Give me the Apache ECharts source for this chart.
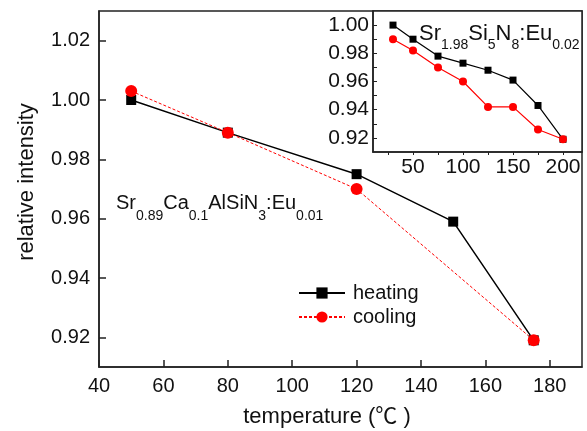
<!DOCTYPE html>
<html>
<head>
<meta charset="utf-8">
<script src="https://cdn.jsdelivr.net/npm/echarts@6/dist/echarts.min.js"></script>
<style>
html,body{margin:0;padding:0;background:#fff;}
#c{width:587px;height:431px;}
</style>
</head>
<body>
<div id="c"></div>
<script>
// ---- data ----
var mainHeatX = [50, 80, 120, 150, 175];
var mainHeatY = [1.000, 0.989, 0.975, 0.959, 0.919];
var mainCoolX = [50, 80, 120, 175];
var mainCoolY = [1.003, 0.989, 0.970, 0.919];

var insetX = [30, 50, 75, 100, 125, 150, 175, 200];
var insetHeatY = [1.000, 0.990, 0.978, 0.973, 0.968, 0.961, 0.943, 0.919];
var insetCoolY = [0.990, 0.982, 0.970, 0.960, 0.942, 0.942, 0.926, 0.919];

var mainXTicks = [40, 60, 80, 100, 120, 140, 160, 180];
var mainYTicks = [0.92, 0.94, 0.96, 0.98, 1.00, 1.02];
var insetXTicks = [25, 50, 75, 100, 125, 150, 175, 200];
var insetXLabels = [50, 100, 150, 200];
var insetYTicks = [0.92, 0.93, 0.94, 0.95, 0.96, 0.97, 0.98, 0.99, 1.00];
var insetYLabels = [0.92, 0.94, 0.96, 0.98, 1.00];

var seriesNames = ['heating', 'cooling'];
var xTitle = 'temperature (\u2103 )';
var yTitle = 'relative intensity';

function pairs(xs, ys) { return xs.map(function (x, i) { return [x, ys[i]]; }); }

var FF = '"Liberation Sans", Arial, "Noto Sans CJK SC", sans-serif';
var AX = '#222';

var chart = echarts.init(document.getElementById('c'), null, {renderer: 'canvas'});

function axisCommon() {
  return {
    type: 'value',
    axisLine: {show: true, onZero: false, lineStyle: {color: AX, width: 1.5}},
    splitLine: {show: false}
  };
}

var option = {
  backgroundColor: '#fff',
  animation: false,
  grid: [
    {left: 99, top: 11, right: 5, bottom: 64, show: true, borderColor: AX, borderWidth: 1.5, backgroundColor: 'transparent'},
    {left: 373, top: 11, right: 5, bottom: 279, show: true, borderColor: AX, borderWidth: 1.5, backgroundColor: '#fff'}
  ],
  xAxis: [
    Object.assign(axisCommon(), {
      gridIndex: 0, min: 40, max: 190,
      axisTick: {show: true, inside: true, length: 7, customValues: mainXTicks, lineStyle: {color: AX, width: 1.5}},
      axisLabel: {customValues: mainXTicks, margin: 9, fontSize: 20, color: '#111', fontFamily: FF}
    }),
    Object.assign(axisCommon(), {
      gridIndex: 1, min: 10, max: 219,
      axisTick: {show: true, inside: false, length: 3, customValues: insetXTicks, lineStyle: {color: AX, width: 1}},
      axisLabel: {customValues: insetXLabels, margin: 5, fontSize: 21, color: '#111', fontFamily: FF}
    })
  ],
  yAxis: [
    Object.assign(axisCommon(), {
      gridIndex: 0, min: 0.91, max: 1.03,
      axisTick: {show: true, inside: true, length: 7, customValues: mainYTicks, lineStyle: {color: AX, width: 1.5}},
      axisLabel: {customValues: mainYTicks, margin: 9, fontSize: 20, color: '#111', fontFamily: FF,
        formatter: function (v) { return v.toFixed(2); }}
    }),
    Object.assign(axisCommon(), {
      gridIndex: 1, min: 0.91, max: 1.01,
      axisTick: {show: true, inside: true, length: 4, customValues: insetYTicks, lineStyle: {color: AX, width: 1}},
      axisLabel: {customValues: insetYLabels, margin: 4, fontSize: 21, color: '#111', fontFamily: FF,
        formatter: function (v) { return v.toFixed(2); }}
    })
  ],
  legend: {
    data: seriesNames,
    orient: 'vertical',
    left: 298, top: 281,
    padding: 0,
    itemWidth: 46, itemHeight: 14, itemGap: 0,
    textStyle: {fontSize: 20, color: '#111', fontFamily: FF, lineHeight: 24, padding: [0, 0, 0, 3]}
  },
  series: [
    {
      name: seriesNames[0], type: 'line', xAxisIndex: 0, yAxisIndex: 0,
      data: pairs(mainHeatX, mainHeatY),
      symbol: 'rect', symbolSize: 10,
      lineStyle: {color: '#000', width: 1.5},
      itemStyle: {color: '#000'}
    },
    {
      name: seriesNames[1], type: 'line', xAxisIndex: 0, yAxisIndex: 0,
      data: pairs(mainCoolX, mainCoolY),
      symbol: 'circle', symbolSize: 12,
      lineStyle: {color: '#ff0000', width: 1, type: [3, 2]},
      itemStyle: {color: '#ff0000'}
    },
    {
      name: 'inset-heating', type: 'line', xAxisIndex: 1, yAxisIndex: 1,
      data: pairs(insetX, insetHeatY),
      symbol: 'rect', symbolSize: 7,
      lineStyle: {color: '#000', width: 1.2},
      itemStyle: {color: '#000'}
    },
    {
      name: 'inset-cooling', type: 'line', xAxisIndex: 1, yAxisIndex: 1,
      data: pairs(insetX, insetCoolY),
      symbol: 'circle', symbolSize: 8,
      lineStyle: {color: '#ff0000', width: 1.2},
      itemStyle: {color: '#ff0000'}
    }
  ],
  graphic: [
    {
      type: 'text', x: 27, y: 182, rotation: Math.PI / 2,
      style: {text: yTitle, fontSize: 22, fontFamily: FF, fill: '#111', align: 'center', verticalAlign: 'middle'}
    },
    {
      type: 'text', x: 327, y: 417,
      style: {text: xTitle, fontSize: 22, fontFamily: FF, fill: '#111', align: 'center', verticalAlign: 'middle'}
    },
    {
      type: 'text', x: 116, y: 193,
      style: {
        text: '{n|Sr}{s|0.89}{n|Ca}{s|0.1}{n|AlSiN}{s|3}{n|:Eu}{s|0.01}',
        fontFamily: FF, fill: '#111', align: 'left', verticalAlign: 'top',
        rich: {
          n: {fontSize: 20, lineHeight: 22, verticalAlign: 'top', fontFamily: FF, fill: '#111'},
          s: {fontSize: 14, lineHeight: 30, verticalAlign: 'bottom', fontFamily: FF, fill: '#111'}
        }
      }
    },
    {
      type: 'text', x: 419, y: 23,
      style: {
        text: '{n|Sr}{s|1.98}{n|Si}{s|5}{n|N}{s|8}{n|:Eu}{s|0.02}',
        fontFamily: FF, fill: '#111', align: 'left', verticalAlign: 'top',
        rich: {
          n: {fontSize: 22, lineHeight: 22, verticalAlign: 'top', fontFamily: FF, fill: '#111'},
          s: {fontSize: 14, lineHeight: 29, verticalAlign: 'bottom', fontFamily: FF, fill: '#111'}
        }
      }
    }
  ]
};
chart.setOption(option);
</script>
</body>
</html>
